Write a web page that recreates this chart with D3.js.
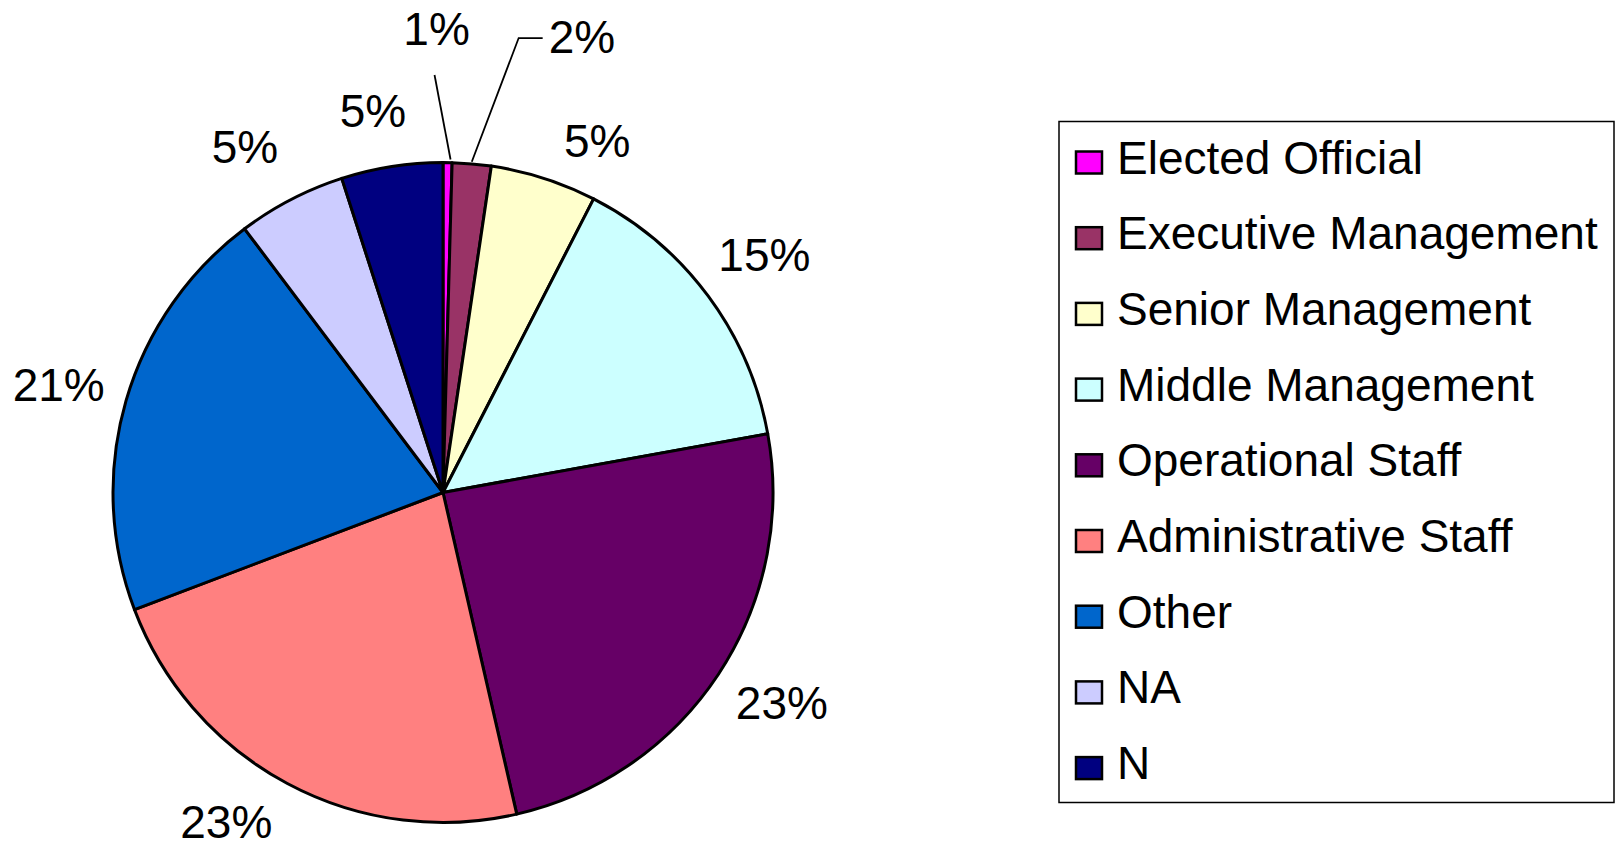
<!DOCTYPE html>
<html>
<head>
<meta charset="utf-8">
<script src="https://cdn.jsdelivr.net/npm/d3@7"></script>
<style>
  html, body { margin: 0; padding: 0; background: #fff; }
  svg { display: block; }
  text { font-family: "Liberation Sans", Arial, sans-serif; fill: #000; }
</style>
</head>
<body>
<svg id="chart" width="1623" height="851"></svg>
<script>
// ---- data ----
const categories = ["Elected Official", "Executive Management", "Senior Management",
  "Middle Management", "Operational Staff", "Administrative Staff", "Other", "NA", "N"];
const shares = [0.44, 1.9, 5.2, 14.6, 24.25, 22.8, 20.5, 5.3, 4.96];
const percentLabels = ["1%", "2%", "5%", "15%", "23%", "23%", "21%", "5%", "5%"];
const colors = ["#FF00FF", "#993366", "#FFFFCC", "#CCFFFF", "#660066",
  "#FF8080", "#0066CC", "#CCCCFF", "#000080"];

// ---- layout ----
const cx = 443, cy = 492.5, radius = 330, labelRadius = 400;
const fontSize = 46;
// small per-label nudges from the default label position (layout only)
const labelNudge = [[-12, -64], [104, -58], [32, 29], [0, 0], [5, -10],
  [-28, -24], [0, 3], [-14, 9], [-8, 13]];
const leader = [true, true, false, false, false, false, false, false, false];

const svg = d3.select("#chart");
const g = svg.append("g").attr("transform", `translate(${cx},${cy})`);

const pie = d3.pie().sort(null).value(d => d.v).startAngle(0).endAngle(2 * Math.PI);
const data = categories.map((c, i) => ({ c, v: shares[i], i }));
const arcs = pie(data);
const arc = d3.arc().innerRadius(0).outerRadius(radius);
const labelArc = d3.arc().innerRadius(labelRadius).outerRadius(labelRadius);
const edgeArc = d3.arc().innerRadius(radius).outerRadius(radius);

g.selectAll("path.slice").data(arcs).join("path")
  .attr("class", "slice")
  .attr("d", arc)
  .attr("fill", d => colors[d.data.i])
  .attr("stroke", "#000")
  .attr("stroke-width", 3)
  .attr("stroke-linejoin", "round");

const textGroup = g.append("g");
arcs.forEach(d => {
  const i = d.data.i;
  const [lx, ly] = labelArc.centroid(d);
  const x = lx + labelNudge[i][0];
  const y = ly + labelNudge[i][1];
  const t = textGroup.append("text")
    .attr("x", x)
    .attr("y", y + fontSize * 0.358)
    .attr("text-anchor", "middle")
    .attr("font-size", fontSize)
    .text(percentLabels[i]);
  if (leader[i]) {
    const [ex, ey] = edgeArc.centroid(d);
    const bb = t.node().getBBox();
    let pts;
    if (i === 0) {
      pts = [[x - 2, bb.y + bb.height + 20], [ex + 3, ey - 3]];
    } else {
      const sx = bb.x - 6, sy = y + 2;
      pts = [[sx, sy], [sx - 24, sy], [ex, ey - 2]];
    }
    g.append("path")
      .attr("d", d3.line()(pts))
      .attr("fill", "none")
      .attr("stroke", "#000")
      .attr("stroke-width", 1.8);
  }
});

// ---- legend ----
const legX = 1059, legY = 121.5, legW = 555, legH = 681;
const rowStep = 75.7;
const leg = svg.append("g");
leg.append("rect")
  .attr("x", legX).attr("y", legY).attr("width", legW).attr("height", legH)
  .attr("fill", "#fff").attr("stroke", "#000").attr("stroke-width", 1.5);

const rows = leg.selectAll("g.row").data(categories).join("g")
  .attr("class", "row")
  .attr("transform", (d, i) => `translate(${legX}, ${legY + 29 + i * rowStep})`);
rows.append("rect")
  .attr("x", 17).attr("y", 1).attr("width", 26).attr("height", 22)
  .attr("fill", (d, i) => colors[i])
  .attr("stroke", "#000").attr("stroke-width", 2.5);
rows.append("text")
  .attr("x", 58).attr("y", 23)
  .attr("font-size", fontSize)
  .text(d => d);
</script>
</body>
</html>
